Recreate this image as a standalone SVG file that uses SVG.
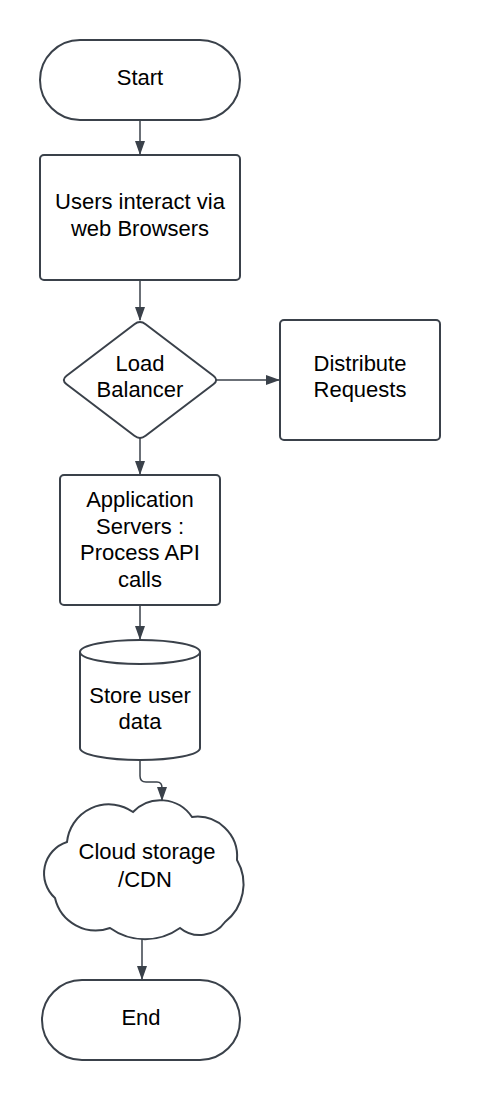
<svg xmlns="http://www.w3.org/2000/svg" width="480" height="1100" viewBox="0 0 480 1100">
<style>
.shape{fill:#ffffff;stroke:#3a414a;stroke-width:2;}
.conn{fill:none;stroke:#3a414a;stroke-width:1.5;}
.t{font-family:"Liberation Sans",Arial,sans-serif;font-size:22px;fill:#000000;text-anchor:middle;}
</style>
<defs>
<marker id="arr" viewBox="0 0 14 10" refX="13" refY="5" markerWidth="14" markerHeight="10" markerUnits="userSpaceOnUse" orient="auto">
<path d="M0,0 L14,5 L0,10 Z" fill="#3a414a"/>
</marker>
</defs>
<rect width="480" height="1100" fill="#ffffff"/>
<g id="connectors">
<path class="conn" d="M140,120 L140,154" marker-end="url(#arr)"/>
<path class="conn" d="M140,280 L140,320" marker-end="url(#arr)"/>
<path class="conn" d="M215,380 L279,380" marker-end="url(#arr)"/>
<path class="conn" d="M140,436 L140,474" marker-end="url(#arr)"/>
<path class="conn" d="M140,605 L140,639" marker-end="url(#arr)"/>
<path class="conn" d="M140,760 L140,776 Q140,782 146,782 L157,782 Q162,782 162,788 L162,800" marker-end="url(#arr)"/>
<path class="conn" d="M142,937 L142,979" marker-end="url(#arr)"/>
</g>
<g id="start">
<rect class="shape" x="40" y="40" width="200" height="80" rx="40" ry="40"/>
<text class="t" x="140" y="85">Start</text>
</g>
<g id="users">
<rect class="shape" x="40" y="155" width="200" height="125" rx="4" ry="4"/>
<text class="t" x="140" y="209">Users interact via</text>
<text class="t" x="140" y="236">web Browsers</text>
</g>
<g id="loadbalancer">
<path class="shape" stroke-linejoin="round" d="M145.6,324.2 L213.4,375.8 Q219,380 213.4,384.2 L145.6,435.8 Q140,440 134.4,435.8 L66.6,384.2 Q61,380 66.6,375.8 L134.4,324.2 Q140,320 145.6,324.2 Z"/>
<text class="t" x="140" y="371">Load</text>
<text class="t" x="140" y="397">Balancer</text>
</g>
<g id="distribute">
<rect class="shape" x="280" y="320" width="160" height="120" rx="4" ry="4"/>
<text class="t" x="360" y="371">Distribute</text>
<text class="t" x="360" y="397">Requests</text>
</g>
<g id="appservers">
<rect class="shape" x="60" y="475" width="160" height="130" rx="4" ry="4"/>
<text class="t" x="140" y="507">Application</text>
<text class="t" x="140" y="534">Servers :</text>
<text class="t" x="140" y="560">Process API</text>
<text class="t" x="140" y="587">calls</text>
</g>
<g id="database">
<path class="shape" d="M80,652 A60,12 0 0 1 200,652 L200,748 A60,12 0 0 1 80,748 Z"/>
<path class="shape" fill="none" d="M80,652 A60,12 0 0 0 200,652"/>
<text class="t" x="140" y="703">Store user</text>
<text class="t" x="140" y="729">data</text>
</g>
<g id="cloud">
<path class="shape" d="M67,842 A42,42 0 0 1 133,812 A38,38 0 0 1 192,817 A40,40 0 0 1 237,860 A48,48 0 0 1 225,922 A31,31 0 0 1 180,928 A60,60 0 0 1 110,928 A42,42 0 0 1 55,898 A33,33 0 0 1 67,842 Z"/>
<text class="t" x="147" y="859">Cloud storage</text>
<text class="t" x="145" y="887">/CDN</text>
</g>
<g id="end">
<rect class="shape" x="42" y="980" width="198" height="80" rx="40" ry="40"/>
<text class="t" x="141" y="1025">End</text>
</g>
</svg>
